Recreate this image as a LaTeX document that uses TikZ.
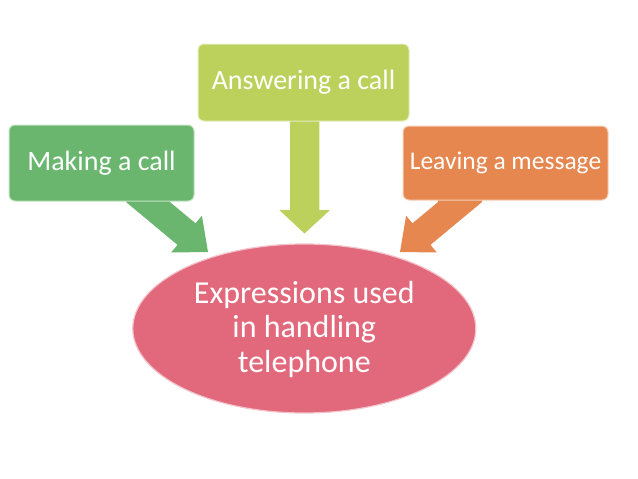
\documentclass[tikz,border=0pt]{standalone}
\usepackage{fontspec}
\setmainfont{Carlito}
\definecolor{cgreen}{HTML}{6BB66E}
\definecolor{clime}{HTML}{BCD15B}
\definecolor{corange}{HTML}{E5874F}
\definecolor{cpink}{HTML}{E2697C}
\begin{document}
\begin{tikzpicture}[x=1pt,y=-1pt,
  topicbox/.style={rounded corners=6pt, line width=1pt, text=white, inner sep=0pt},
  blockarrow/.style={draw=none},
  hub/.style={ellipse, line width=1.2pt, text=white, inner sep=0pt, align=center}
]
\useasboundingbox (0,0) rectangle (638,479);
% block arrows (drawn first, boxes cover their tails)
\fill[cgreen] (126,195) -- (126,202) -- (177.5,244.9) -- (171.1,252.5) -- (208,252) -- (201.9,215.7) -- (195.5,223.3) -- (169.9,202) -- (169.9,195) -- cycle;
\fill[corange] (482,195) -- (482,202) -- (430.5,244.9) -- (436.9,252.5) -- (400,252) -- (406.1,215.7) -- (412.5,223.3) -- (438.1,202) -- (438.1,195) -- cycle;
\fill[clime] (290,115) -- (290,210) -- (279.3,210) -- (304.5,233.5) -- (330,210) -- (319.3,210) -- (319.3,115) -- cycle;
% boxes
\node[topicbox, fill=cgreen, draw=cgreen!40!white, minimum width=185pt, minimum height=76pt, font=\fontsize{28}{32}\selectfont] (make) at (101.5,163) {Making a call};
\node[topicbox, fill=clime, draw=clime!40!white, minimum width=211pt, minimum height=77pt, font=\fontsize{28}{32}\selectfont] (answer) at (303.5,82.5) {Answering a call};
\node[topicbox, fill=corange, draw=corange!40!white, minimum width=205pt, minimum height=74pt, font=\fontsize{25.5}{30}\selectfont] (leave) at (505.5,163) {Leaving a message};
% ellipse
\fill[cpink, draw=cpink!40!white, line width=1.2pt] (304.3,328.5) ellipse [x radius=171.5pt, y radius=84.5pt];
\node[text=white, align=center, font=\fontsize{32}{34.5}\selectfont] (hub) at (304.3,329) {Expressions used\\in handling\\telephone};
\end{tikzpicture}
\end{document}
